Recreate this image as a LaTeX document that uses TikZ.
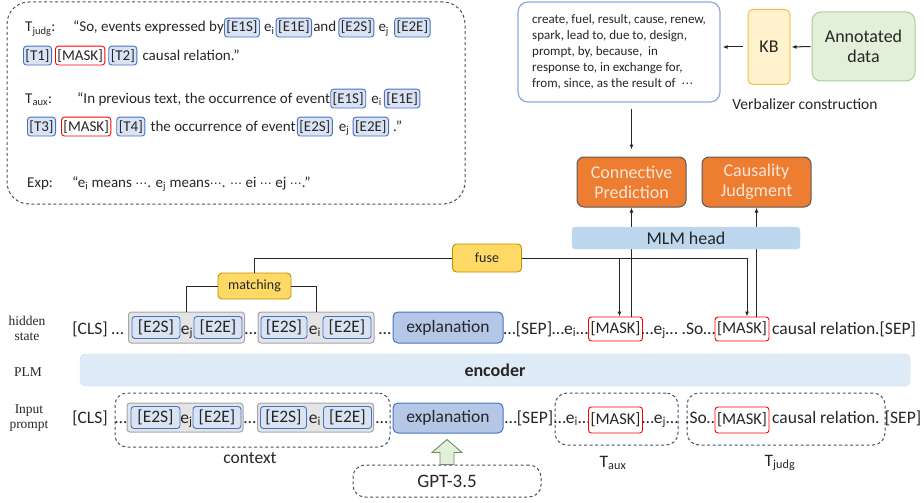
\documentclass[tikz,border=0pt]{standalone}
\usepackage{fontspec}
\setmainfont{Carlito}
\newfontfamily\labfont{Liberation Serif}
\newfontfamily\dotfont{DejaVu Sans}
\usepackage{xcolor}
\usetikzlibrary{positioning,arrows.meta}

\definecolor{tokfill}{HTML}{DAE3F3}
\definecolor{tokline}{HTML}{4472C4}
\definecolor{explfill}{HTML}{B4C7E7}
\definecolor{grpfill}{HTML}{E4E4E4}
\definecolor{grpline}{HTML}{A6A6A6}
\definecolor{encfill}{HTML}{DEEBF7}
\definecolor{encline}{HTML}{C9DCF0}
\definecolor{headfill}{HTML}{BDD7EE}
\definecolor{orfill}{HTML}{ED7D31}
\definecolor{orline}{HTML}{595959}
\definecolor{ortext}{HTML}{FBE5D6}
\definecolor{yelfill}{HTML}{FFD966}
\definecolor{yelline}{HTML}{BF9000}
\definecolor{kbfill}{HTML}{FFF2CC}
\definecolor{kbline}{HTML}{F2C14E}
\definecolor{annfill}{HTML}{E2F0D9}
\definecolor{annline}{HTML}{A9D18E}
\definecolor{verbline}{HTML}{8FAADC}
\definecolor{dashline}{HTML}{44546A}
\definecolor{maskred}{HTML}{FF0000}
\definecolor{upfill}{HTML}{E2F0D9}
\definecolor{upline}{HTML}{6F8F5F}
\definecolor{ink}{HTML}{262626}

\newcommand\boxf{\fontsize{15}{18}\selectfont}
\newcommand\rowf{\fontsize{17.5}{20}\selectfont}
\newcommand\verbf{\fontsize{13}{16}\selectfont}
\newcommand\bigf{\fontsize{18}{20}\selectfont}
\newcommand\labf{\labfont\fontsize{13.5}{15}\selectfont}
\newcommand\sub[1]{\textsubscript{#1}}
\newcommand\mdots{{\dotfont\fontsize{12}{14}\selectfont ⋯}}

\tikzset{
  tok/.style={draw=tokline, fill=tokfill, line width=0.9pt, rounded corners=3pt},
  btok/.style={tok, inner xsep=2pt, inner ysep=3pt, font=\boxf},
  bmask/.style={btok, draw=maskred, fill=white},
  rtok/.style={tok, inner sep=0pt, minimum width=48pt, minimum height=22pt, font=\rowf},
  rmask/.style={rtok, draw=maskred, fill=white, minimum width=54pt, minimum height=25pt, font=\fontsize{16.5}{20}\selectfont},
  btxt/.style={inner sep=0pt, font=\boxf},
  rtxt/.style={inner sep=0pt, font=\rowf},
  grp/.style={draw=grpline, fill=grpfill, line width=1pt, rounded corners=3pt, minimum width=116pt},
  expl/.style={draw=tokline, fill=explfill, line width=1pt, rounded corners=5pt, minimum width=110pt, minimum height=31pt, font=\rowf},
  dashbox/.style={draw=dashline, dash pattern=on 3pt off 2.5pt, line width=1pt, rounded corners=12pt},
  orbox/.style={draw=orline, fill=orfill, text=ortext, line width=1pt, rounded corners=7pt, minimum width=109pt, minimum height=50pt, align=center, font=\bigf},
  yelbox/.style={draw=yelline, fill=yelfill, line width=0.9pt, rounded corners=4pt, font=\fontsize{14}{16}\selectfont},
  wire/.style={line width=1pt, draw=ink},
  arr/.style={wire, -{Latex[length=5pt,width=4pt]}},
}

\begin{document}
\begin{tikzpicture}[x=1pt, y=-1pt, text=ink]
\useasboundingbox (0,0) rectangle (924,503);

% prompt templates
\node[dashbox, rounded corners=22pt, minimum width=458pt, minimum height=202pt] (tplbox) at (236,103) {};
\node[btxt, anchor=base west] (tj) at (25,32) {T\sub{judg}:};
\node[btxt, anchor=base west] (tj1) at (73,32) {“So, events expressed by};
\node[btok, base right=0pt of tj1] (tje1s) {[E1S]};
\node[btxt, base right=4pt of tje1s] (tjei) {e\sub{i}};
\node[btok, base right=1pt of tjei] (tje1e) {[E1E]};
\node[btxt, base right=1pt of tje1e] (tjand) {and};
\node[btok, base right=2pt of tjand] (tje2s) {[E2S]};
\node[btxt, base right=4pt of tje2s] (tjej) {e\sub{j}};
\node[btok, base right=5pt of tjej] (tje2e) {[E2E]};
\node[btok, anchor=base west] (tjt1) at (23,60) {[T1]};
\node[bmask, base right=3pt of tjt1] (tjmask) {[MASK]};
\node[btok, base right=3pt of tjmask] (tjt2) {[T2]};
\node[btxt, base right=5pt of tjt2] (tjrest) {causal relation.”};

\node[btxt, anchor=base west] (ta) at (25,103) {T\sub{aux}:};
\node[btxt, anchor=base west] (ta1) at (77,103) {“In previous text, the occurrence of event};
\node[btok, base right=0pt of ta1] (tae1s) {[E1S]};
\node[btxt, base right=5pt of tae1s] (taei) {e\sub{i}};
\node[btok, base right=2pt of taei] (tae1e) {[E1E]};
\node[btok, anchor=base west] (tat3) at (27,131) {[T3]};
\node[bmask, base right=5pt of tat3] (tamask) {[MASK]};
\node[btok, base right=5pt of tamask] (tat4) {[T4]};
\node[btxt, base right=5pt of tat4] (ta2) {the occurrence of event};
\node[btok, base right=1pt of ta2] (tae2s) {[E2S]};
\node[btxt, base right=6pt of tae2s] (taej) {e\sub{j}};
\node[btok, base right=3pt of taej] (tae2e) {[E2E]};
\node[btxt, base right=4pt of tae2e] (taend) {.”};

\node[btxt, anchor=base west] (ex) at (27,187) {Exp:};
\node[btxt, anchor=base west] (ex1) at (72,187) {“e\sub{i} means \mdots. e\sub{j} means\mdots. \mdots\ ei \mdots\ ej \mdots.”};

% verbalizer construction
\node[draw=verbline, fill=white, line width=1.2pt, rounded corners=10pt, minimum width=202pt, minimum height=100pt, align=left, font=\verbf] (verb) at (619,52) {create, fuel, result, cause, renew,\\spark, lead to, due to, design,\\prompt, by, because,\ \ in\\response to, in exchange for,\\from, since, as the result of\ \ \mdots};
\node[draw=kbline, fill=kbfill, line width=1pt, rounded corners=5pt, minimum width=42pt, minimum height=75pt, font=\bigf] (kb) at (769,47) {KB};
\node[draw=annline, fill=annfill, line width=1pt, rounded corners=9pt, minimum width=103pt, minimum height=69pt, align=center, font=\bigf] (ann) at (863.5,46.5) {Annotated\\data};
\node[font=\fontsize{15.5}{18}\selectfont] (vclab) at (805,104) {Verbalizer construction};

% prediction heads
\node[orbox] (cp) at (631.5,182) {Connective\\Prediction};
\node[orbox] (cj) at (756.5,182) {Causality\\Judgment};

% row labels
\node[align=center, font=\labf] (hlab) at (27,328) {hidden\\state};
\node[font=\labf] (plab) at (28,372) {PLM};
\node[align=center, font=\labf] (ilab) at (29,418) {Input\\prompt};

% hidden state
\node[rtxt, anchor=base east] (hcls) at (124,334) {[CLS] …};
\node[grp, minimum height=31pt] (hg1) at (186.5,327.5) {};
\node[rtok] (hg1s) at (156,327.5) {[E2S]};
\node[rtxt, anchor=base] (hg1e) at (187,334) {e\sub{j}};
\node[rtok] (hg1t) at (218,327.5) {[E2E]};
\node[rtxt, anchor=base] (hdot1) at (251,334) {…};
\node[grp, minimum height=31pt] (hg2) at (316,327.5) {};
\node[rtok, minimum width=46pt] (hg2s) at (284,327.5) {[E2S]};
\node[rtxt, anchor=base] (hg2e) at (315,334) {e\sub{i}};
\node[rtok] (hg2t) at (347,327.5) {[E2E]};
\node[rtxt, anchor=base] (hdot2) at (385,334) {…};
\node[expl] (hexp) at (448,327.5) {explanation};
\node[rtxt, anchor=base] (hsep) at (546,334) {…[SEP]…e\sub{i}…};
\node[rmask, minimum height=24pt] (hmask1) at (615.5,329) {[MASK]};
\node[rtxt, anchor=base] (hmid) at (678.5,334) {…e\sub{j}… .So…};
\node[rmask, minimum height=24pt] (hmask2) at (742,329) {[MASK]};
\node[rtxt, anchor=base west] (hend) at (772,334) {causal relation.[SEP]};

% encoder
\node[draw=encline, fill=encfill, rounded corners=5pt, minimum width=830pt, minimum height=32pt, font={\bigf\bfseries}] (enc) at (495,370) {encoder};

% input prompt
\node[rtxt, anchor=base] (icls) at (90,423) {[CLS]};
\node[dashbox, minimum width=275pt, minimum height=54pt] (ctx) at (252.5,420) {};
\node[rtxt, anchor=base] (idot0) at (121,423) {…};
\node[grp, minimum height=29pt] (ig1) at (185,417.5) {};
\node[rtok, minimum width=49pt] (ig1s) at (155.5,417.5) {[E2S]};
\node[rtxt, anchor=base] (ig1e) at (186.5,423) {e\sub{j}};
\node[rtok] (ig1t) at (217,417.5) {[E2E]};
\node[rtxt, anchor=base] (idot1) at (250,423) {…};
\node[grp, minimum height=29pt] (ig2) at (315.5,417.5) {};
\node[rtok, minimum width=46pt] (ig2s) at (283.5,417.5) {[E2S]};
\node[rtxt, anchor=base] (ig2e) at (315,423) {e\sub{i}};
\node[rtok] (ig2t) at (347.5,417.5) {[E2E]};
\node[rtxt, anchor=base] (idot2) at (382,423) {…};
\node[expl, minimum height=30pt] (iexp) at (448,418) {explanation};
\node[rtxt, anchor=base] (isep) at (529,423) {…[SEP]};
\node[dashbox, minimum width=123pt, minimum height=52pt] (taux) at (616.5,419) {};
\node[rtxt, anchor=base] (iei) at (572,423) {…e\sub{i}…};
\node[rmask, minimum height=26pt] (imask1) at (615.5,420) {[MASK]};
\node[rtxt, anchor=base] (iej) at (660,423) {…e\sub{j}…};
\node[dashbox, minimum width=198pt, minimum height=52pt] (tjudg) at (786,419) {};
\node[rtxt, anchor=base] (iso) at (702,423) {.So…};
\node[rmask, minimum height=26pt] (imask2) at (742,420) {[MASK]};
\node[rtxt, anchor=base west] (icaus) at (772,423) {causal relation.};
\node[rtxt, anchor=base] (isep2) at (903,423) {[SEP]};

\node[font=\rowf] (ctxlab) at (250,458) {context};
\node[font=\rowf] (tauxlab) at (613,463) {T\sub{aux}};
\node[font=\rowf] (tjudglab) at (780,463) {T\sub{judg}};

% explanation generator
\node[dashbox, minimum width=188pt, minimum height=32pt, font=\fontsize{19}{21}\selectfont] (gpt) at (447,481) {GPT-3.5};
\draw[draw=upline, fill=upfill, line width=0.9pt] ([xshift=-7pt]gpt.north) -- ++(0,-12) -- ++(-8,0) -- ++(15,-13) -- ++(15,13) -- ++(-8,0) -- ++(0,12) -- cycle;

% matching and fuse
\node[yelbox, minimum width=69pt, minimum height=28pt] (fuse) at (487,258) {fuse};
\node[yelbox, minimum width=73pt, minimum height=26pt] (match) at (254.5,286) {matching};

\draw[arr, shorten <=1pt, shorten >=1pt] (ann.west) -- (kb.east);
\draw[arr, shorten <=5pt, shorten >=2pt] (kb.west) -- (kb.west -| verb.east);
\draw[arr, shorten <=6pt, shorten >=7pt] (verb.south -| cp.north) -- (cp.north);
\draw[arr] (hmask1.north -| cp.south) -- (cp.south);
\draw[arr] (hmask2.north -| cj.south) -- (cj.south);
\draw[arr] (fuse.east) -| ([xshift=5pt]hmask2.north);
\draw[arr] ([xshift=4pt]hmask1.north |- fuse.east) -- ([xshift=4pt]hmask1.north);
\draw[wire] (fuse.west) -| (match.north);
\draw[wire] (match.west) -| (hg1.north);
\draw[wire] (match.east) -| (hg2.north);

\node[draw=encline, fill=headfill, rounded corners=3pt, minimum width=228pt, minimum height=22pt, font=\bigf] (mlm) at (686,238) {MLM head};
\end{tikzpicture}
\end{document}
